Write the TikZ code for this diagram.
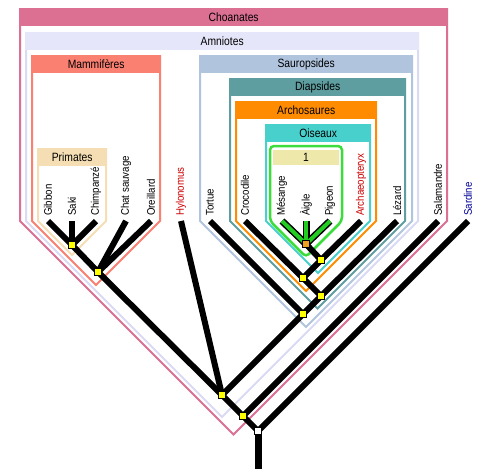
\documentclass[tikz,border=0pt]{standalone}
\usepackage{fontspec}
\setmainfont[FakeStretch=0.88]{Liberation Sans}
\newfontfamily\hdrfam[FakeStretch=0.86]{Liberation Sans}
\definecolor{cChoa}{HTML}{DB7093}
\definecolor{cAmn}{HTML}{E6E6FA}
\definecolor{cAmnL}{HTML}{DADAF4}
\definecolor{cMam}{HTML}{FA8072}
\definecolor{cPri}{HTML}{F5DEB3}
\definecolor{cSau}{HTML}{B0C4DE}
\definecolor{cDia}{HTML}{5F9EA0}
\definecolor{cArc}{HTML}{FF8C00}
\definecolor{cOis}{HTML}{48D1CC}
\definecolor{cOne}{HTML}{EEE8AA}
\definecolor{cLime}{HTML}{3CDC3C}
\definecolor{cGreen}{HTML}{22CC22}
\definecolor{cFossil}{HTML}{CC0000}
\definecolor{cFish}{HTML}{000099}
\definecolor{cKnot}{HTML}{FFFF00}
\definecolor{cKnotB}{HTML}{F0A020}
\newcommand\hdrfont{\hdrfam\fontsize{12}{14}\selectfont}
\newcommand\leaffont{\fontsize{11}{13}\selectfont}
\tikzset{
  boxline/.style={line width=2pt, line join=miter},
  header/.style={anchor=north west, minimum height=18pt, inner sep=0pt, font=\hdrfont, text=black},
  leaf/.style={rotate=90, anchor=west, inner sep=0pt, font=\leaffont},
  branch/.style={line width=6pt, draw=black},
  gout/.style={line width=7pt, draw=black},
  gin/.style={line width=4pt, draw=cGreen},
  knot/.style={draw=black, line width=0.8pt, fill=cKnot, minimum size=7.5pt, inner sep=0pt},
}
\newcommand\cladebox[7]{%
  \pgfmathsetmacro\cbmid{(#2+#3)/2}%
  \pgfmathsetmacro\cbvy{221+(#3-#2)/2}%
  \draw[boxline,draw=#6] (#2,#4) -- (#2,221) -- (\cbmid,\cbvy) -- (#3,221) -- (#3,#4);
  \node[header,fill=#5,minimum width={(#3-#2+2)*1pt}] (#1) at (#2-1,#4) {#7};
}
\begin{document}
\begin{tikzpicture}[x=1pt,y=-1pt]
\useasboundingbox (0,0) rectangle (500,469);
% clade boxes
\cladebox{hChoa}{20}{447}{8}{cChoa}{cChoa}{Choanates}
\cladebox{hAmn}{26}{418}{32}{cAmn}{cAmnL}{Amniotes}
\cladebox{hMam}{32}{160}{55}{cMam}{cMam}{Mammifères}
\cladebox{hPri}{38}{106}{148}{cPri}{cPri}{Primates}
\cladebox{hSau}{200}{412}{55}{cSau}{cSau}{Sauropsides}
\cladebox{hDia}{230}{405}{78}{cDia}{cDia}{Diapsides}
\cladebox{hArc}{236}{376}{101}{cArc}{cArc}{Archosaures}
\cladebox{hOis}{266}{370}{124}{cOis}{cOis}{Oiseaux}
% group 1
\fill[cOne] (273,150) rectangle (339,165);
\draw[line width=2.5pt, draw=cLime, rounded corners=4pt]
  (270,221) -- (270,146) -- (342,146) -- (342,221) -- (306,257) -- cycle;
\node[font=\hdrfont, inner sep=0pt] (hOne) at (306,157.5) {1};
% leaves
\foreach \nm/\x/\txt/\col in {gib/48/Gibbon/black, sak/72/Saki/black, chi/96/Chimpanzé/black,
  cha/126/Chat sauvage/black, ore/151/Oreillard/black, hyl/181/Hylonomus/cFossil,
  tor/210/Tortue/black, cro/245/Crocodile/black, mes/282/Mésange/black, aig/306/Àigle/black,
  pig/330/Pigeon/black, arx/361/Archaeopteryx/cFossil, lez/397/Lézard/black,
  sal/438/Salamandre/black, sar/468/Sardine/cFish}{
  \coordinate (t\nm) at (\x,221);
  \node[leaf,text=\col] (l\nm) at (\x,216) {\txt};
}
% internal nodes
\coordinate (nP) at (72,245);
\coordinate (nM) at (98,272);
\coordinate (nB) at (306,244);
\coordinate (nO) at (321,260);
\coordinate (nA) at (303,278);
\coordinate (nD) at (321,296);
\coordinate (nS) at (303,314);
\coordinate (nAm) at (222,395);
\coordinate (nT) at (243,416);
\coordinate (nR) at (258,431);
\coordinate (stem) at (258,469);
% branches
\draw[branch] (tgib) -- (nP);
\draw[branch] (tsak) -- (nP);
\draw[branch] (tchi) -- (nP);
\draw[branch] (nP) -- (nM);
\draw[branch] (tcha) -- (nM);
\draw[branch] (tore) -- (nM);
\draw[branch] (nM) -- (nAm);
\draw[branch] (thyl) -- (nAm);
\draw[gout] (tmes) -- (nB);
\draw[gout] (taig) -- (nB);
\draw[gout] (tpig) -- (nB);
\draw[gin] (tmes) -- (nB);
\draw[gin] (taig) -- (nB);
\draw[gin] (tpig) -- (nB);
\draw[branch] (nB) -- (nO);
\draw[branch] (tarx) -- (nO);
\draw[branch] (nO) -- (nA);
\draw[branch] (tcro) -- (nA);
\draw[branch] (nA) -- (nD);
\draw[branch] (tlez) -- (nD);
\draw[branch] (nD) -- (nS);
\draw[branch] (ttor) -- (nS);
\draw[branch] (nS) -- (nAm);
\draw[branch] (nAm) -- (nT);
\draw[branch] (tsal) -- (nT);
\draw[branch] (nT) -- (nR);
\draw[branch] (tsar) -- (nR);
\draw[line width=7pt, draw=black] (nR) -- (stem);
% node squares
\node[knot] (kP) at (nP) {};
\node[knot] (kM) at (nM) {};
\node[knot, fill=cKnotB] (kB) at (nB) {};
\node[knot] (kO) at (nO) {};
\node[knot] (kA) at (nA) {};
\node[knot] (kD) at (nD) {};
\node[knot] (kS) at (nS) {};
\node[knot] (kAm) at (nAm) {};
\node[knot] (kT) at (nT) {};
\node[knot, fill=white] (kR) at (nR) {};
\end{tikzpicture}
\end{document}
